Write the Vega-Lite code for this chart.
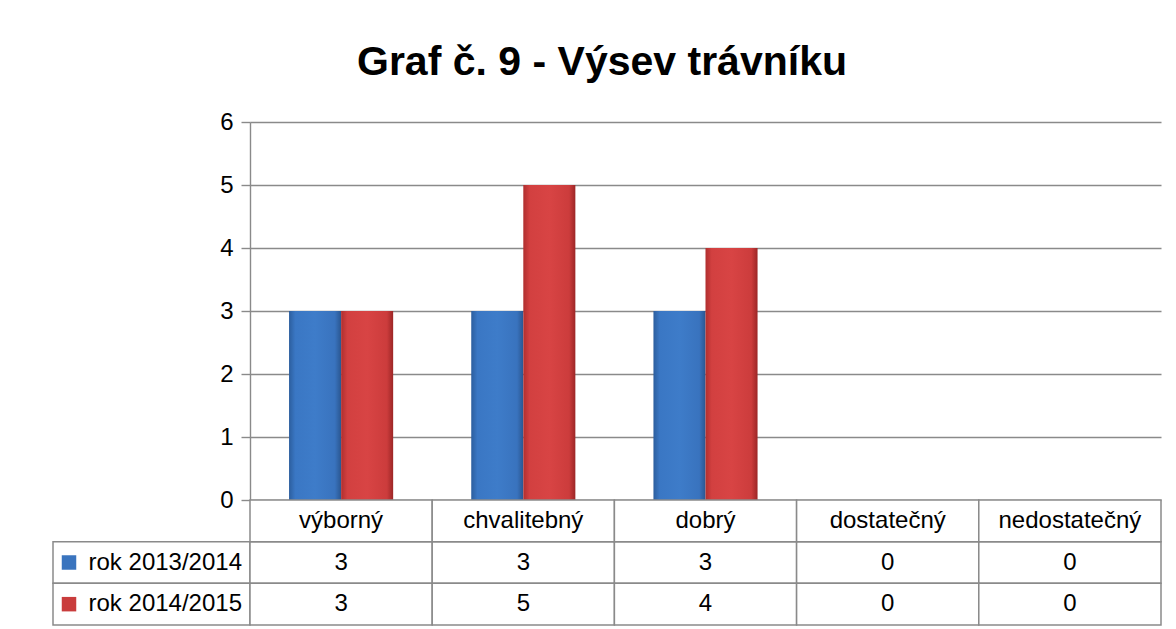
{
  "$schema": "https://vega.github.io/schema/vega-lite/v6.json",
  "autosize": {"type": "pad"},
  "padding": {"left": 52, "top": 42, "right": 16, "bottom": 4},
  "background": "white",
  "title": {
    "text": "Graf č. 9 - Výsev trávníku",
    "font": "Liberation Sans",
    "fontSize": 41,
    "fontWeight": "bold",
    "color": "black",
    "anchor": "middle",
    "baseline": "alphabetic",
    "dx": -5,
    "offset": -6
  },
  "config": {"view": {"stroke": null}},
  "datasets": {
    "hodnoty": [
      {"kategorie": "výborný", "rok": "rok 2013/2014", "pocet": 3},
      {"kategorie": "chvalitebný", "rok": "rok 2013/2014", "pocet": 3},
      {"kategorie": "dobrý", "rok": "rok 2013/2014", "pocet": 3},
      {"kategorie": "dostatečný", "rok": "rok 2013/2014", "pocet": 0},
      {"kategorie": "nedostatečný", "rok": "rok 2013/2014", "pocet": 0},
      {"kategorie": "výborný", "rok": "rok 2014/2015", "pocet": 3},
      {"kategorie": "chvalitebný", "rok": "rok 2014/2015", "pocet": 5},
      {"kategorie": "dobrý", "rok": "rok 2014/2015", "pocet": 4},
      {"kategorie": "dostatečný", "rok": "rok 2014/2015", "pocet": 0},
      {"kategorie": "nedostatečný", "rok": "rok 2014/2015", "pocet": 0}
    ]
  },
  "columns": 2,
  "spacing": 0,
  "bounds": "flush",
  "align": "each",
  "concat": [
    {
      "width": 197,
      "height": 378,
      "data": {"values": []},
      "mark": {"type": "text", "text": ""}
    },
    {
      "width": 911,
      "height": 378,
      "data": {"name": "hodnoty"},
      "encoding": {
        "x": {
          "field": "kategorie", "type": "nominal",
          "scale": {"domain": ["výborný", "chvalitebný", "dobrý", "dostatečný", "nedostatečný"], "paddingInner": 0, "paddingOuter": 0},
          "axis": null
        },
        "xOffset": {
          "field": "rok", "type": "nominal",
          "scale": {"domain": ["rok 2013/2014", "rok 2014/2015"], "paddingInner": 0, "paddingOuter": 0.75}
        },
        "y": {
          "field": "pocet", "type": "quantitative",
          "scale": {"domain": [0, 6], "nice": false},
          "axis": {
            "values": [0, 1, 2, 3, 4, 5, 6],
            "title": null,
            "grid": true,
            "gridColor": "#8A8A8A",
            "gridWidth": 1.4,
            "domainColor": "#8A8A8A",
            "domainWidth": 1.4,
            "tickColor": "#8A8A8A",
            "tickWidth": 1.4,
            "tickSize": 9,
            "labelFont": "Liberation Sans",
            "labelFontSize": 24,
            "labelColor": "black",
            "labelPadding": 8
          }
        }
      },
      "layer": [
        {
          "transform": [{"filter": "datum.rok === 'rok 2013/2014'"}],
          "mark": {
            "type": "bar",
            "color": {
              "gradient": "linear", "x1": 0, "x2": 1, "y1": 0, "y2": 0,
              "stops": [
                {"offset": 0, "color": "#2C5E9E"},
                {"offset": 0.12, "color": "#3A77C4"},
                {"offset": 0.5, "color": "#3E7CC9"},
                {"offset": 0.88, "color": "#3973BE"},
                {"offset": 1, "color": "#2A5690"}
              ]
            }
          }
        },
        {
          "transform": [{"filter": "datum.rok === 'rok 2014/2015'"}],
          "mark": {
            "type": "bar",
            "color": {
              "gradient": "linear", "x1": 0, "x2": 1, "y1": 0, "y2": 0,
              "stops": [
                {"offset": 0, "color": "#B02F2F"},
                {"offset": 0.12, "color": "#D24040"},
                {"offset": 0.5, "color": "#D84444"},
                {"offset": 0.88, "color": "#CC3C3C"},
                {"offset": 1, "color": "#9C2626"}
              ]
            }
          }
        }
      ]
    },
    {
      "width": 197,
      "height": 125,
      "data": {"name": "hodnoty"},
      "transform": [{"filter": "datum.kategorie === 'výborný'"}],
      "encoding": {
        "y": {
          "field": "rok", "type": "nominal",
          "scale": {"domain": ["záhlaví", "rok 2013/2014", "rok 2014/2015"], "paddingInner": 0, "paddingOuter": 0},
          "axis": null
        }
      },
      "layer": [
        {
          "mark": {"type": "rect", "fill": "white", "stroke": "#8A8A8A", "strokeWidth": 1.5}
        },
        {
          "mark": {"type": "point", "shape": "square", "filled": true, "size": 210, "opacity": 1, "xOffset": 16},
          "encoding": {
            "x": {"value": 0},
            "color": {
              "field": "rok", "type": "nominal",
              "scale": {"domain": ["rok 2013/2014", "rok 2014/2015"], "range": ["#3A74BE", "#C93C3C"]},
              "legend": null
            }
          }
        },
        {
          "mark": {"type": "text", "align": "right", "dx": -8, "font": "Liberation Sans", "fontSize": 24, "color": "black"},
          "encoding": {
            "x": {"value": "width"},
            "text": {"field": "rok"}
          }
        }
      ]
    },
    {
      "width": 911,
      "height": 125,
      "data": {"name": "hodnoty"},
      "encoding": {
        "x": {
          "field": "kategorie", "type": "nominal",
          "scale": {"domain": ["výborný", "chvalitebný", "dobrý", "dostatečný", "nedostatečný"], "paddingInner": 0, "paddingOuter": 0},
          "axis": null
        }
      },
      "layer": [
        {
          "mark": {"type": "rect", "fill": "white", "stroke": "#8A8A8A", "strokeWidth": 1.5},
          "encoding": {
            "y": {
              "field": "rok", "type": "nominal",
              "scale": {"domain": ["záhlaví", "rok 2013/2014", "rok 2014/2015"], "paddingInner": 0, "paddingOuter": 0},
              "axis": null
            }
          }
        },
        {
          "transform": [{"filter": "datum.rok === 'rok 2013/2014'"}],
          "mark": {"type": "rect", "fill": "white", "stroke": "#8A8A8A", "strokeWidth": 1.5},
          "encoding": {
            "y": {"datum": "záhlaví", "type": "nominal"}
          }
        },
        {
          "mark": {"type": "text", "font": "Liberation Sans", "fontSize": 24, "color": "black"},
          "encoding": {
            "y": {"field": "rok", "type": "nominal"},
            "text": {"field": "pocet"}
          }
        },
        {
          "transform": [{"filter": "datum.rok === 'rok 2013/2014'"}],
          "mark": {"type": "text", "font": "Liberation Sans", "fontSize": 24, "color": "black"},
          "encoding": {
            "y": {"datum": "záhlaví", "type": "nominal"},
            "text": {"field": "kategorie"}
          }
        }
      ]
    }
  ]
}
